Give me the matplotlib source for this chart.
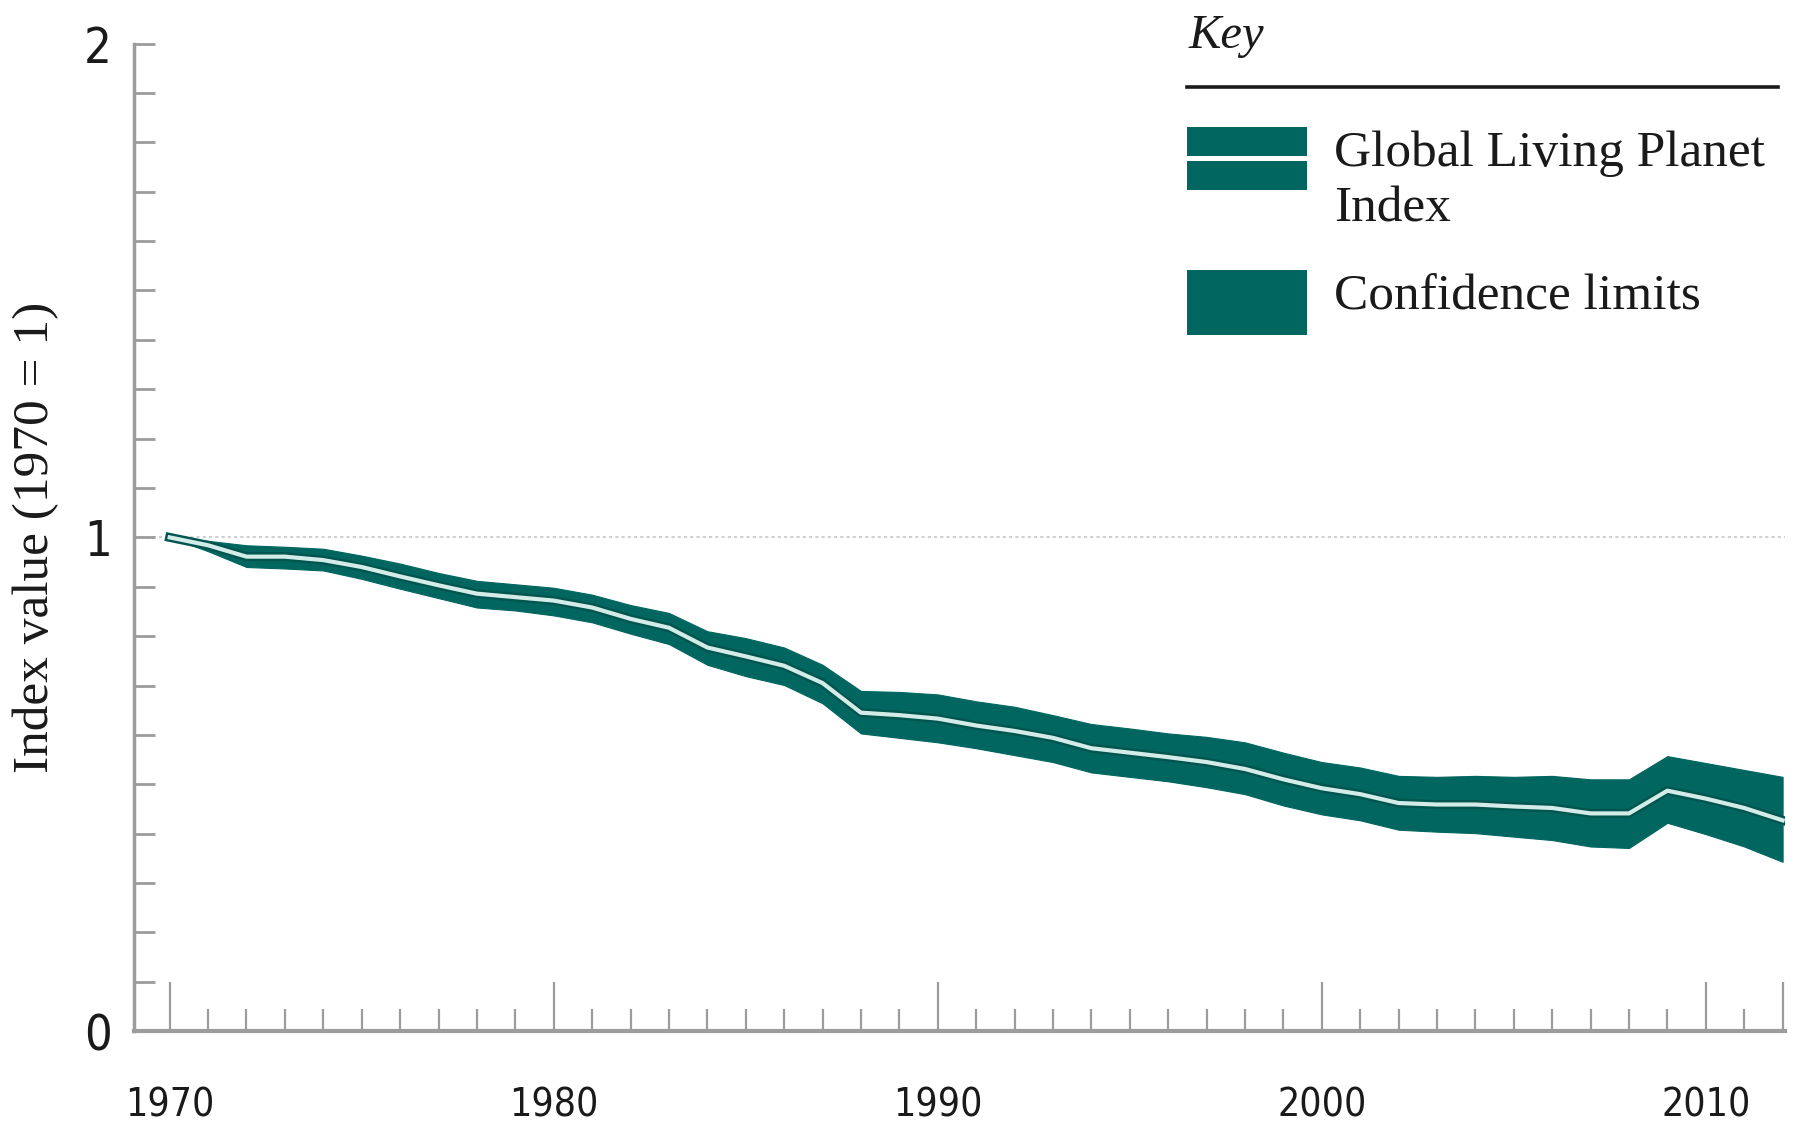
import matplotlib
matplotlib.use("Agg")
import matplotlib.pyplot as plt
from matplotlib.patches import Rectangle
from matplotlib.lines import Line2D
from matplotlib.ticker import MultipleLocator, FixedLocator

# Global Living Planet Index, 1970 = 1
years = list(range(1970, 2013))
lpi = [1.000, 0.984, 0.961, 0.961, 0.954, 0.940, 0.921, 0.903, 0.886, 0.879,
       0.872, 0.858, 0.835, 0.817, 0.777, 0.759, 0.740, 0.705, 0.645, 0.640,
       0.633, 0.619, 0.608, 0.594, 0.573, 0.564, 0.555, 0.545, 0.531, 0.510,
       0.492, 0.480, 0.462, 0.459, 0.459, 0.455, 0.452, 0.441, 0.441, 0.487,
       0.471, 0.452, 0.427]
ci_upper = [1.000, 0.993, 0.984, 0.981, 0.977, 0.963, 0.947, 0.928, 0.912, 0.905,
            0.898, 0.884, 0.863, 0.847, 0.810, 0.796, 0.777, 0.742, 0.689, 0.687,
            0.682, 0.668, 0.657, 0.640, 0.622, 0.613, 0.603, 0.596, 0.585, 0.564,
            0.545, 0.534, 0.517, 0.515, 0.517, 0.515, 0.517, 0.510, 0.510, 0.557,
            0.543, 0.529, 0.515]
ci_lower = [1.000, 0.972, 0.940, 0.937, 0.933, 0.916, 0.896, 0.877, 0.858, 0.852,
            0.842, 0.828, 0.805, 0.784, 0.742, 0.719, 0.701, 0.664, 0.603, 0.594,
            0.585, 0.573, 0.559, 0.545, 0.524, 0.515, 0.506, 0.494, 0.480, 0.457,
            0.439, 0.427, 0.408, 0.404, 0.401, 0.394, 0.387, 0.374, 0.371, 0.422,
            0.399, 0.374, 0.343]

x_major = [1970, 1980, 1990, 2000, 2010, 2012]
x_labels = ["1970", "1980", "1990", "2000", "2010", ""]
y_major = [0, 1, 2]

TEAL = "#00665f"
TEAL_DARK = "#00554f"
LINE_LIGHT = "#d3ece8"
GREY = "#9c9c9c"
INK = "#1a1a1a"
SERIF = ["Liberation Serif", "DejaVu Serif"]

fig = plt.figure(figsize=(17.96, 11.24), dpi=100)
ax = fig.add_axes([0.0746, 0.0826, 0.919, 0.8786])

ax.fill_between(years, ci_lower, ci_upper, color=TEAL, lw=0.8, ec=TEAL, zorder=2)
ax.plot(years, lpi, color=TEAL_DARK, lw=6.5, solid_joinstyle="round", zorder=3)
ax.plot(years, lpi, color=LINE_LIGHT, lw=3.0, solid_joinstyle="round", zorder=4)
ax.axhline(1, color="#d0d0d0", lw=1.5, ls=(0, (1.5, 1.5)), zorder=1)

ax.set_xlim(1969.07, 2012.05)
ax.set_ylim(0, 2)

for s in ("top", "right"):
    ax.spines[s].set_visible(False)
ax.spines["left"].set_color(GREY)
ax.spines["left"].set_linewidth(2.5)
ax.spines["bottom"].set_color(GREY)
ax.spines["bottom"].set_linewidth(3)

ax.xaxis.set_major_locator(FixedLocator(x_major))
ax.set_xticklabels(x_labels)
ax.xaxis.set_minor_locator(MultipleLocator(1))
ax.yaxis.set_major_locator(FixedLocator(y_major))
ax.yaxis.set_minor_locator(MultipleLocator(0.1))

ax.tick_params(axis="x", which="major", direction="in", length=35, width=1.6,
               color=GREY, pad=40, labelsize=28, labelcolor=INK)
ax.tick_params(axis="x", which="minor", direction="in", length=16, width=1.6, color=GREY)
ax.tick_params(axis="y", which="both", direction="in", length=15, width=2,
               color=GREY, pad=16, labelsize=35, labelcolor=INK)
for lab in ax.get_xticklabels() + ax.get_yticklabels():
    lab.set_family("DejaVu Sans")
    lab.set_fontstretch("condensed")

ax.set_ylabel("Index value (1970 = 1)", family=SERIF, fontsize=37, color=INK)
ax.yaxis.set_label_coords(-0.0455, 0.5)

# key
fig.text(0.662, 0.957, "Key", family=SERIF, style="italic", fontsize=35,
         color=INK, va="baseline")
fig.add_artist(Line2D([0.661, 0.990], [0.923, 0.923], color=INK, lw=2.6))
fig.add_artist(Rectangle((0.661, 0.861), 0.067, 0.026, color=TEAL, lw=0))
fig.add_artist(Rectangle((0.661, 0.831), 0.067, 0.026, color=TEAL, lw=0))
fig.add_artist(Rectangle((0.661, 0.702), 0.067, 0.058, color=TEAL, lw=0))
fig.text(0.743, 0.852, "Global Living Planet", family=SERIF, fontsize=37,
         color=INK, va="baseline")
fig.text(0.743, 0.803, "Index", family=SERIF, fontsize=37,
         color=INK, va="baseline")
fig.text(0.743, 0.725, "Confidence limits", family=SERIF, fontsize=37,
         color=INK, va="baseline")

fig.savefig("out.png", dpi=100)
